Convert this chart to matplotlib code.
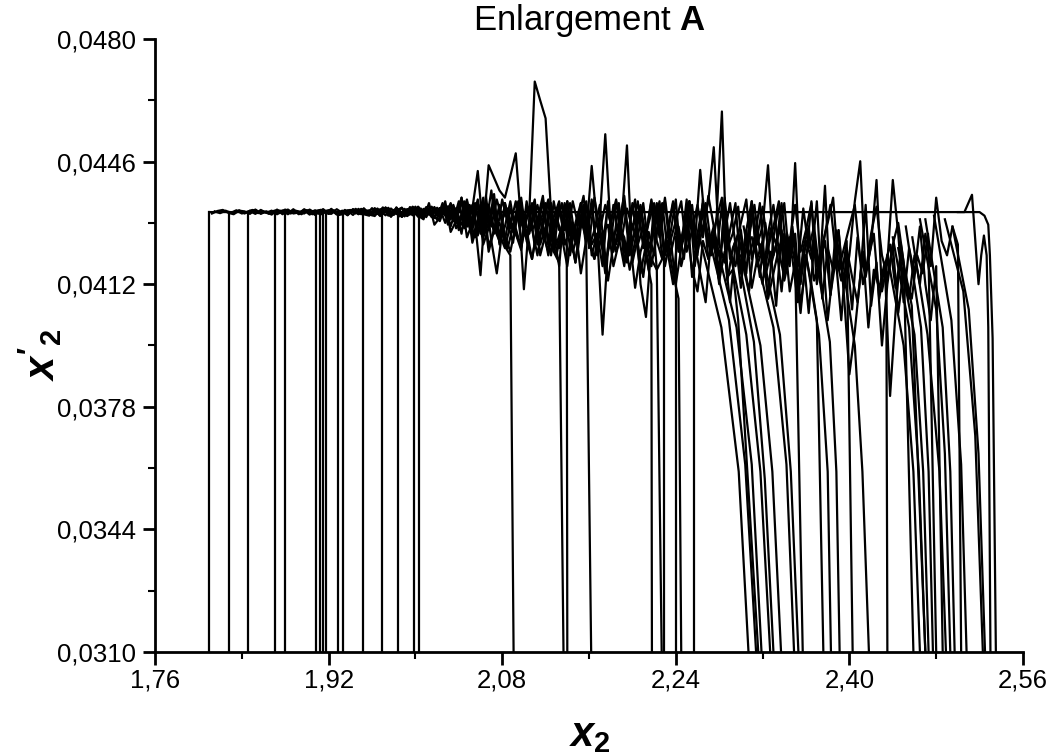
import numpy as np
import matplotlib.pyplot as plt
from matplotlib.ticker import AutoMinorLocator, FuncFormatter

plt.rcParams["font.family"] = ["Liberation Sans", "DejaVu Sans"]
plt.rcParams["mathtext.fontset"] = "custom"
plt.rcParams["mathtext.rm"] = "Liberation Sans:bold"
plt.rcParams["mathtext.it"] = "Liberation Sans:italic:bold"
plt.rcParams["mathtext.bf"] = "Liberation Sans:bold"

# --- AXES ---
x_min, x_max = 1.76, 2.56
y_min, y_max = 0.0310, 0.0480
x_ticks = [1.76, 1.92, 2.08, 2.24, 2.40, 2.56]
y_ticks = [0.0310, 0.0344, 0.0378, 0.0412, 0.0446, 0.0480]
plateau = 0.0432
step = 0.005          # sample spacing of the noisy band traces
dy_unit = 1e-5        # band deviations are stored in units of 1e-5

# --- ORBITS ENTERING FROM THE BOTTOM (left part) ---
start_x = [1.810, 1.828, 1.846, 1.871, 1.880, 1.908, 1.912, 1.915, 1.918,
           1.929, 1.933, 1.952, 1.969, 1.984, 1.999, 2.003]

# --- TOP LINE (clean plateau with rounded corner at the right) ---
top_x = [1.810, 2.520, 2.5245, 2.528, 2.5295, 2.532, 2.535]
top_y = [0.0432, 0.0432, 0.0431, 0.04285, 0.0420, 0.0397, 0.0310]

hump_x = [2.500, 2.506, 2.513, 2.5175, 2.519, 2.5215, 2.524, 2.5265, 2.528, 2.530]
hump_y = [0.0432, 0.0432, 0.04368, 0.0418, 0.0412, 0.0420, 0.04255, 0.0420, 0.0400, 0.0310]

# --- NOISY BAND TRACES (deviation from plateau, 1e-5 units) ---
band_a = [2, -3, 4, -2, 5, -4, 1, 6, -3, 2, -5, 4, 0, 7, -4, 3, -6, 5, 2, -3, 8, -5, 3, -7, 6, -2, 9, -6,
          4, -9, 10, -5, 12, -8, 6, -12, 14, -6, 10, -14, 15, -8, 12, -18,
          20, -30, 15, -45, 25, -60, 20, -40, 35, -20, 10, -55, 30, -25, 0, 362, 310, 260, 0, -40,
          25, -70, 30, -35, 15, -90, 40, -50, 20, -30, 35, -75, 10, -45, 30, -100, -30, 25, -60, 40,
          -80, -25, 30, -110, -50, 20, -70, 45, -40, -120, -60, 25, -90, -30, 35, -130, -70, 15, -100, -40,
          30, -140, -80, 20, -110, -50, 25, -150, -90, -30, 40, -160, -100, -40, 20, -130, -170, -60, 15, -120,
          -180, -90, -30, -140]
band_b = [-2, 5, -4, 3, 6, -5, 2, -3, 7, -6, 4, 1, -4, 8, -2, 5, -7, 3, 6, -4, 2, -8, 7, -3,
          10, -7, 5, -11, 13, -4, 9, -13, 6, -9, 15, -6, 11, -16, 8, -10,
          25, -20, 40, -35, 10, 114, -50, 130, 95, 60, 40, 100, 163, -30, -70, 20, -90, -40, 30, -110,
          15, -50, -20, -85, 25, -60, 128, -40, -95, 20, -70, -30, 45, -100, -50, 10, -65, 35, -80, -130,
          -60, 25, -110, -40, 30, -90, 117, -50, -120, -20, 40, -100, -60, 15, -140, -70, 20, -110, -160, -45,
          -90, 25, -130, -70, -150, 10, -100, -40, -170, -60, 20, -120, -190, -80]
band_c = [4, -6, 3, 7, -3, 5, -8, 2, 6, -4, 9,
          -7, 11, -5, 13, -10, 6, -12, 9, -4, 15, -11, 7, -14, 12, -6, 16,
          -25, 30, -45, 20, -30, -175, 45, -80, -170, -55, -100, -40, 30, -214, -20, 35, -120, -60, 25, -90,
          -40, 30, -110, -60, 20, -80, -130, -20, 216, -50, -90, -30, 185, -140, -70, 25, -100, -45, 30, -120,
          -60, 35, -150, -80, 20, -110, -40, 30, 180, -90, -140, -50, 25, -170, -100, 15, -130, -200, -60, 20,
          -110, -180, -70, -140]
band_d = [6, -9, 12, -5, 10, -13, 8, -4, 14, -10, 5, -15, 11, -7, 16, -20,
          30, -40, 20, -65, 15, -35, 50, -90, 25, -45, -20, 40, -75, -30, 20, -60, -110, 30, -50, -40,
          25, -80, -40, 30, -120, -60, -340, -100, 20, -70, -150, -30, 35, -200, -291, -90, 25, -130, -50, 30,
          -100, -60, 30, -150, -40, 25, -90, -20, 279, -180, -160, -300]
band_e = [8, -10, 14, -6, -20, 25, -35, 15, -50, 30, -25, -70, 20, -40, 60, -60, 35, -30, -85, 20,
          -45, 15, -95, -30, 25, -70, -120, -40, 30, -60, -20, 45, -100, -50, 20, -140, -80, 30, -60, -110,
          25, -90, -40, -160, 20, -70, 30, -120, -50, -100, 35, -180, -60, 25, -130, -80, -200, 40, -110, -150,
          -50, -170, 30, -90, -40, 130, -120, -60, 25, -150, 136, -200, -80, -130, 30, -240, -100, -160, -50, -210,
          -120, 30, 141, -180, -90, 89, -220, -140, 89, -60, -250, -100, -170, -40, -200, -300, -150]
band_f = [-30, 20, -80, -150, -60, 25, -110, -200, -40, -130, 30, -90, -170, -250, -70, -120, 20, -190, -100, -60,
          -140, -220, -80, 25, -180, -110, -260, -50, -150, -40, -200, -120, -280, -90, -170, 73, -230, -130, -300, -100,
          -180, -250, -110, -320, -160, -210, -140, -510, -280, -90, -190, -240, -120, -170, -60]
band_g = [20, -60, -120, 35, -90, -40, -170, 25, -130, -80, -210, -50, 30, -150, -100, -240, -70, 20, -190, -120,
          -60, -260, -140, 30, -200, -90, -300, -160, -50, -230, -450, -330, -180, 20, -260, -140, -370, -200, -90, -280,
          -160, -240, -120, -200, -60, -150, 40, -80, -120, -40, -90]
band_h = [-4, 3, 6, -2, -6, 4, 2, -5, 7, -3, 1, -7, 5, 3, -4, 8, -6, 2, 4, -8, 6, -3, 9, -5, 2, -9, 7, -4,
          10, -6, -11, 8, 4, -13, 12, -7, -10, 14, -5, -15, 9, -12,
          -25, 18, -40, 10, -60, 30, -85, -30, 22, -110, -50, 15, -95, -120]
band_i = [3, -5, 6, -2, 4, -6, 2, 7, -4, -1, 5, -7, 3, 6, -3, -5, 8, -2, 4, -8,
          9, -6, -10, 11, -4, 7, -12, 13, -8, -5, 15, -10,
          -20, 25, -35, -15, 30, -55, -25, 40, -70, -30, 20, -90, -45, 25, -60, -100, -35, 30, -80, -50,
          -130, -40, 35, -70, -110, -140]
band_j = [-3, 4, -6, 5, 2, -4, 7, -2, -5, 3, 6, -7, 4, -3, 8, -6, 2, 5, -8, 3,
          -9, 10, -5, 12, -11, 6, -13, 9, -7, 14, -12, 10,
          15, -25, 30, -40, -20, 35, -65, 20, -45, -80, 25, -35, -60, -105, 30, -50, -20, 45, -90, -40,
          20, -75, -120, -30, 25, -100]
band_k = [5, -3, -7, 4, 6, -5, 2, -8, 7, -2,
          8, -11, 5, 12, -9, -4, 13, -10, 7, -14, 11, -6,
          20, -30, -15, 35, -50, 25, -70, -30, 15, -85, -40, 30, -60, -95, 20, -45, -120, -20, 35, -75,
          -100, 25, -55, -140, -30, 20, -90, -60, -150, 30, -110, -40, -70, -160, -80, 15, -120, -200]
band_l = [-6, 9, -4, 11, -10, 5, -13, 8, -3, 14, -9, 6, -15, 10,
          -30, 22, -45, -15, 30, -70, -25, 40, -95, -50, 20, -65, -110, -35, 25, -80, -130, -45, 30, -90,
          -60, -150, 20, -100, -40, -170, -75, 35, -120, -55, -190, -90, 25, -140, -70, -210, -110, -60, 30, -160,
          -130, -80, -170, -240]
band_m = [-40, -120, -70, -180, -30, -150, -90, -220, -60, -130, -250, -100, -40, -190, -140, -80,
          -230, -50, -160, -110, -270, -70, -200, -130, -60, -240, -150, -90, -210, -120, -180, -260]
band_n = [-20, -60, 15, -90, -40, -120, -10, -70, -150, -30, -100, 20, -80, -130, -50, -170, -25, -110, -60, -140,
          -35, -90, -180, -55, -120, 15, -150, -70, -200, -100, -40, -160, -220, -80, -130, -60, -190, -110, -250, -90,
          -150, -50, -210, -130, -80, -240, -170, -100, -60, -220, -140, -280, -120, -200, -300]
band_o = [-5, 8, -12, 4, -20, 10, -35, -10, 15, -50, -25, 20, -60, -30, -80, 10, -45, -100, -20, 25,
          -70, -40, -120, -15, 30, -90, -55, -140, -20, -75, 15, -110, -60, -35, -150, -85, 20, -120, -50, -170,
          -90, -130, -160]

bands = [band_a, band_b, band_c, band_d, band_e, band_f, band_g, band_h,
         band_i, band_j, band_k, band_l, band_m, band_n, band_o]
band_x0 = [1.815, 1.8325, 1.900, 1.9625, 2.000, 2.2025, 2.250, 1.8125,
           1.8475, 1.8725, 1.9225, 1.9575, 2.3025, 2.100, 2.0125]
band_end = [2.459, 2.403, 2.357, 2.316, 2.486, 2.480, 2.503, 2.0905,
            2.1365, 2.162, 2.218, 2.245, 2.470, 2.376, 2.227]

# --- STRAIGHT DROPS (from the band to the bottom) ---
drop_top_x = [2.1395, 2.2290, 2.2400, 2.2570, 2.4340]
drop_top_y = [0.0424, 0.0423, 0.0425, 0.0421, 0.0418]
drop_bot_x = [2.1400, 2.2290, 2.2400, 2.2570, 2.4350]

# --- CURVED DROPS ---
curve_x = [[2.262, 2.282, 2.298, 2.307],
           [2.268, 2.289, 2.304, 2.314],
           [2.275, 2.296, 2.310, 2.319],
           [2.288, 2.305, 2.318, 2.327],
           [2.296, 2.312, 2.322, 2.330],
           [2.300, 2.318, 2.329, 2.337],
           [2.310, 2.330, 2.342, 2.349],
           [2.318, 2.336, 2.346, 2.353],
           [2.360, 2.372, 2.380, 2.383],
           [2.370, 2.382, 2.388, 2.391],
           [2.395, 2.405, 2.412, 2.418],
           [2.435, 2.450, 2.459, 2.465],
           [2.440, 2.455, 2.464, 2.470],
           [2.445, 2.460, 2.468, 2.473],
           [2.452, 2.466, 2.473, 2.477],
           [2.458, 2.472, 2.483, 2.489],
           [2.465, 2.480, 2.488, 2.493],
           [2.470, 2.486, 2.493, 2.497],
           [2.478, 2.494, 2.503, 2.508],
           [2.488, 2.505, 2.516, 2.523],
           [2.495, 2.510, 2.519, 2.525]]
curve_y = [[0.0425, 0.0400, 0.0360, 0.0310],
           [0.0428, 0.0402, 0.0362, 0.0310],
           [0.0426, 0.0400, 0.0362, 0.0310],
           [0.0424, 0.0398, 0.0360, 0.0310],
           [0.0422, 0.0396, 0.0358, 0.0310],
           [0.0420, 0.0395, 0.0360, 0.0310],
           [0.0425, 0.0400, 0.0362, 0.0310],
           [0.0423, 0.0398, 0.0360, 0.0310],
           [0.0420, 0.0398, 0.0360, 0.0310],
           [0.0418, 0.0396, 0.0360, 0.0310],
           [0.0415, 0.0395, 0.0360, 0.0310],
           [0.0420, 0.0395, 0.0360, 0.0310],
           [0.0425, 0.0400, 0.0360, 0.0310],
           [0.0422, 0.0398, 0.0360, 0.0310],
           [0.0428, 0.0400, 0.0360, 0.0310],
           [0.0425, 0.0398, 0.0360, 0.0310],
           [0.0430, 0.0405, 0.0365, 0.0310],
           [0.0430, 0.0400, 0.0360, 0.0310],
           [0.0431, 0.0402, 0.0362, 0.0310],
           [0.0430, 0.0410, 0.0370, 0.0310],
           [0.0428, 0.0405, 0.0365, 0.0310]]

# --- PLOT ---
fig = plt.figure(figsize=(10.53, 7.56), dpi=100)
ax = fig.add_axes([0.1472, 0.1376, 0.8243, 0.8108])
lw = 1.6
col = "black"

for sx in start_x:
    ax.plot([sx, sx], [y_min, plateau], color=col, lw=lw)

ax.plot(top_x, top_y, color=col, lw=lw)
ax.plot(hump_x, hump_y, color=col, lw=lw)

for x0, dy, end in zip(band_x0, bands, band_end):
    xs = x0 + step * np.arange(len(dy))
    ys = plateau + np.array(dy) * dy_unit
    ax.plot(np.append(xs, end), np.append(ys, y_min), color=col, lw=lw)

for tx, ty, bx in zip(drop_top_x, drop_top_y, drop_bot_x):
    ax.plot([tx, bx], [ty, y_min], color=col, lw=lw)

for cx, cy in zip(curve_x, curve_y):
    ax.plot(cx, cy, color=col, lw=lw)

ax.set_xlim(x_min, x_max)
ax.set_ylim(y_min, y_max)
ax.set_xticks(x_ticks)
ax.set_yticks(y_ticks)
ax.xaxis.set_minor_locator(AutoMinorLocator(2))
ax.yaxis.set_minor_locator(AutoMinorLocator(2))
ax.xaxis.set_major_formatter(FuncFormatter(lambda v, p: f"{v:.2f}".replace(".", ",")))
ax.yaxis.set_major_formatter(FuncFormatter(lambda v, p: f"{v:.4f}".replace(".", ",")))

for side in ["top", "right"]:
    ax.spines[side].set_visible(False)
for side in ["left", "bottom"]:
    ax.spines[side].set_linewidth(2.0)

ax.tick_params(which="major", direction="out", length=9, width=2, labelsize=18.5)
ax.tick_params(which="minor", direction="out", length=5, width=1.5)
ax.tick_params(axis="y", which="major", pad=5)
ax.tick_params(axis="x", which="major", pad=3)

ax.set_title(r"Enlargement $\mathbf{A}$", fontsize=25, pad=2)
fig.text(590 / 1053, 1 - 735 / 756, r"$x_2$", fontsize=30, ha="center", va="center")
fig.text(40 / 1053, 1 - 355 / 756, r"$x'_2$", fontsize=30, ha="center", va="center", rotation=90)

fig.savefig("out.png", dpi=100)
